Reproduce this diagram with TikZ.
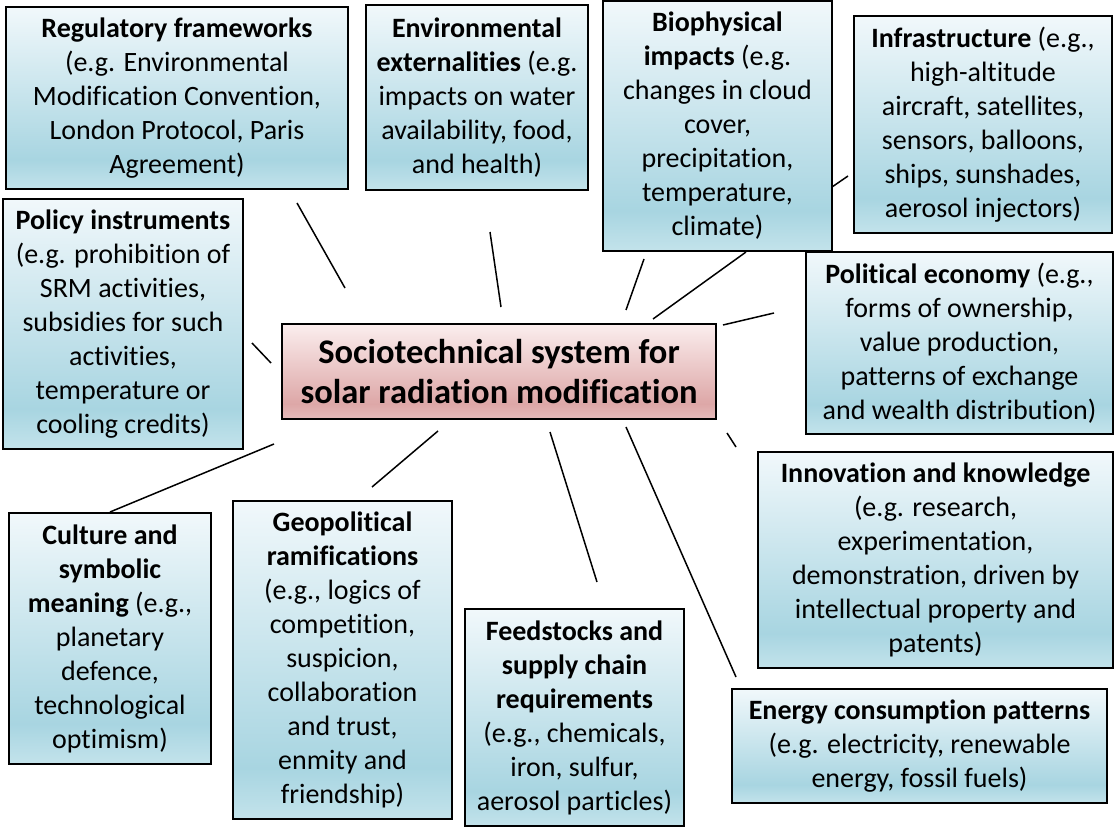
\documentclass[tikz,border=0pt]{standalone}
\usepackage{fontspec}
\setmainfont{Carlito}[Ligatures={NoCommon}]
\usepackage{tikz}
\definecolor{bluetop}{HTML}{F1F8FB}
\definecolor{bluedark}{HTML}{A8D5E1}
\definecolor{bluebot}{HTML}{C3E3EB}
\definecolor{pinktop}{HTML}{FBEEEE}
\definecolor{pinkdark}{HTML}{DDA7A7}
\definecolor{pinkbot}{HTML}{E5BBBB}
\pgfdeclareverticalshading{boxblue}{100bp}{color(0bp)=(bluebot); color(25bp)=(bluebot);
  color(33bp)=(bluedark); color(75bp)=(bluetop); color(100bp)=(bluetop)}
\pgfdeclareverticalshading{boxpink}{100bp}{color(0bp)=(pinkbot); color(25bp)=(pinkbot);
  color(33bp)=(pinkdark); color(75bp)=(pinktop); color(100bp)=(pinktop)}

\begin{document}
\begin{tikzpicture}[x=1pt, y=-1pt]
\tikzstyle{factor} = [rectangle, draw, line width=1.2pt, shade, shading=boxblue, text=black,
    align=center, inner sep=0pt, font=\fontsize{28}{34}\selectfont]
\tikzstyle{core} = [rectangle, draw, line width=1.2pt, shade, shading=boxpink, text=black,
    align=center, inner sep=0pt, font=\fontsize{34.5}{40}\selectfont\bfseries]
\tikzstyle{spoke} = [draw, line width=1.5pt]
    \useasboundingbox (0,0) rectangle (1120,832);
    % Place nodes
    \node [core, minimum width=434pt, minimum height=95pt] (ctr) at (499,371.5)
        {Sociotechnical system for\\solar radiation modification};
    \node [factor, minimum width=342pt, minimum height=182pt] (reg) at (177,98)
        {\textbf{Regulatory frameworks}\\(e.g. Environmental\\Modification Convention,\\London Protocol, Paris\\Agreement)};
    \node [factor, minimum width=222pt, minimum height=185pt] (env) at (477,97.5)
        {\textbf{Environmental}\\\textbf{externalities} (e.g.\\impacts on water\\availability, food,\\and health)};
    \node [factor, minimum width=229pt, minimum height=250pt] (bio) at (717.5,126)
        {\textbf{Biophysical}\\\textbf{impacts} (e.g.\\changes in cloud\\cover,\\precipitation,\\temperature,\\climate)};
    \node [factor, minimum width=258pt, minimum height=217pt] (infra) at (983,124.5)
        {\textbf{Infrastructure} (e.g.,\\high-altitude\\aircraft, satellites,\\sensors, balloons,\\ships, sunshades,\\aerosol injectors)};
    \node [factor, minimum width=240pt, minimum height=250pt] (pol) at (123,324)
        {\textbf{Policy instruments}\\(e.g. prohibition of\\SRM activities,\\subsidies for such\\activities,\\temperature or\\cooling credits)};
    \node [factor, minimum width=307pt, minimum height=182pt] (peco) at (959.5,343)
        {\textbf{Political economy} (e.g.,\\forms of ownership,\\value production,\\patterns of exchange\\and wealth distribution)};
    \node [factor, minimum width=355pt, minimum height=216pt] (inno) at (935.5,560)
        {\textbf{Innovation and knowledge}\\(e.g. research,\\experimentation,\\demonstration, driven by\\intellectual property and\\patents)};
    \node [factor, minimum width=202pt, minimum height=251pt] (cult) at (110,638.5)
        {\textbf{Culture and}\\\textbf{symbolic}\\\textbf{meaning} (e.g.,\\planetary\\defence,\\technological\\optimism)};
    \node [factor, minimum width=219pt, minimum height=318pt] (geo) at (342.5,660)
        {\textbf{Geopolitical}\\\textbf{ramifications}\\(e.g., logics of\\competition,\\suspicion,\\collaboration\\and trust,\\enmity and\\friendship)};
    \node [factor, minimum width=219pt, minimum height=217pt] (feed) at (574.5,717.5)
        {\textbf{Feedstocks and}\\\textbf{supply chain}\\\textbf{requirements}\\(e.g., chemicals,\\iron, sulfur,\\aerosol particles)};
    \node [factor, minimum width=375pt, minimum height=114pt] (ener) at (919.5,746)
        {\textbf{Energy consumption patterns}\\(e.g. electricity, renewable\\energy, fossil fuels)};

% spoke ends
    \coordinate (regA) at (297,203);   \coordinate (regB) at (345,288);
    \coordinate (envA) at (490,232);   \coordinate (envB) at (501,307);
    \coordinate (bioA) at (644,259);   \coordinate (bioB) at (626,310);
    \coordinate (bioC) at (746,252);   \coordinate (bioD) at (653,319);
    \coordinate (infraA) at (832,187); \coordinate (infraB) at (848,176);
    \coordinate (pecoA) at (774,313);  \coordinate (pecoB) at (723,325);
    \coordinate (polA) at (252,343);   \coordinate (polB) at (271,363);
    \coordinate (cultA) at (274,444);  \coordinate (cultB) at (110,512);
    \coordinate (geoA) at (438,431);   \coordinate (geoB) at (372,487);
    \coordinate (feedA) at (550,432);  \coordinate (feedB) at (597,582);
    \coordinate (enerA) at (626,427);  \coordinate (enerB) at (736,677);
    \coordinate (innoA) at (727,433);  \coordinate (innoB) at (736,447);

%paths
    \path [spoke] (regA) -- (regB);
    \path [spoke] (envA) -- (envB);
    \path [spoke] (bioA) -- (bioB);
    \path [spoke] (bioC) -- (bioD);
    \path [spoke] (infraA) -- (infraB);
    \path [spoke] (pecoA) -- (pecoB);
    \path [spoke] (polA) -- (polB);
    \path [spoke] (cultA) -- (cultB);
    \path [spoke] (geoA) -- (geoB);
    \path [spoke] (feedA) -- (feedB);
    \path [spoke] (enerA) -- (enerB);
    \path [spoke] (innoA) -- (innoB);

\end{tikzpicture}
\end{document}
